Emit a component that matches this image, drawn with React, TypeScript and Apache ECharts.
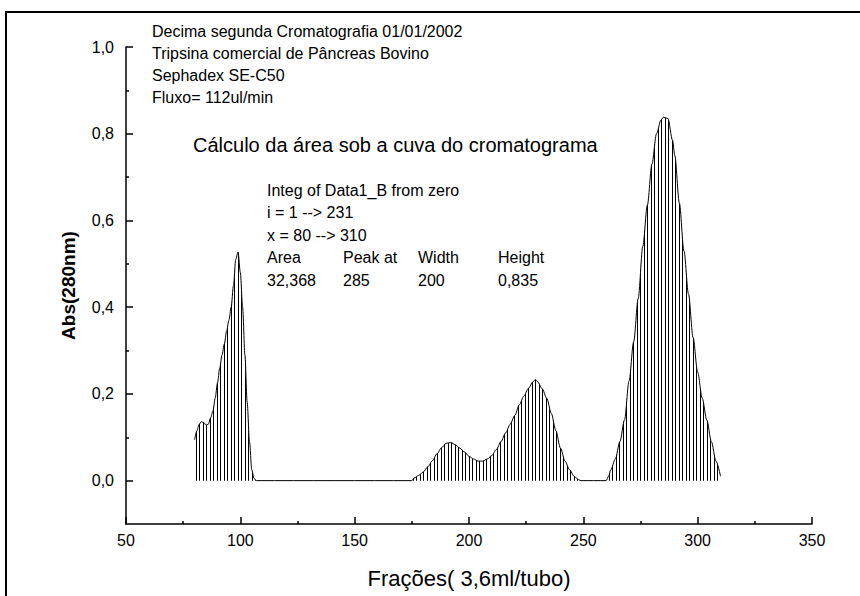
import React, { useEffect, useRef } from "react";
import * as echarts from "echarts";

// Fraction number (x) and absorbance at 280 nm (y)
const fractionX = [
  80, 81, 82, 83, 84, 85, 86, 87, 88, 89, 90, 91, 92, 93, 94, 95, 96, 97, 98, 99,
  100, 101, 102, 103, 104, 105, 106, 107,
  175, 176, 178, 180, 182, 184, 186, 188, 190, 192, 194, 196, 198, 200, 202, 204,
  206, 208, 210, 212, 214, 216, 218, 220, 222, 224, 226, 228, 229, 230, 232, 234,
  236, 238, 240, 242, 244, 246, 248, 249,
  260, 261, 262, 264, 266, 268, 270, 272, 274, 276, 278, 280, 282, 284, 285, 287,
  289, 290, 292, 294, 296, 298, 300, 302, 304, 306, 308, 310,
];
const absorbance = [
  0.094, 0.115, 0.13, 0.136, 0.134, 0.128, 0.13, 0.145, 0.16, 0.19, 0.225, 0.26, 0.29, 0.315, 0.345, 0.37, 0.4, 0.45, 0.51, 0.527,
  0.48, 0.4, 0.29, 0.18, 0.09, 0.025, 0.005, 0,
  0, 0.006, 0.012, 0.02, 0.032, 0.046, 0.062, 0.076, 0.086, 0.088, 0.083, 0.075, 0.066, 0.056, 0.05, 0.045,
  0.045, 0.05, 0.058, 0.072, 0.09, 0.11, 0.13, 0.15, 0.175, 0.195, 0.213, 0.228, 0.233, 0.228, 0.212, 0.19,
  0.155, 0.115, 0.075, 0.045, 0.025, 0.01, 0.002, 0,
  0, 0.01, 0.025, 0.05, 0.09, 0.14, 0.23, 0.32, 0.42, 0.54, 0.635, 0.73, 0.8, 0.832, 0.838, 0.835,
  0.785, 0.75, 0.64, 0.53, 0.43, 0.33, 0.25, 0.19, 0.14, 0.09, 0.045, 0.01,
];

const yMajorTicks = [0, 0.2, 0.4, 0.6, 0.8, 1.0];
const yMinorTicks = [0.1, 0.3, 0.5, 0.7, 0.9];

const headerLines = [
  "Decima segunda Cromatografia 01/01/2002",
  "Tripsina comercial de Pâncreas Bovino",
  "Sephadex SE-C50",
  "Fluxo= 112ul/min",
];
const calcTitle = "Cálculo da área sob a cuva do cromatograma";
const integLines = ["Integ of Data1_B from zero", "i = 1 --> 231", "x = 80 --> 310"];
const resultHeaders = ["Area", "Peak at", "Width", "Height"];
const resultValues = ["32,368", "285", "200", "0,835"];

const FONT = "Arial, 'Liberation Sans', sans-serif";

export default function App() {
  const ref = useRef<HTMLDivElement>(null);
  useEffect(() => {
    if (!ref.current) return;
    const chart = echarts.init(ref.current, null, { renderer: "svg" });
    const svgTile =
      "<svg xmlns='http://www.w3.org/2000/svg' width='7' height='4'>" +
      "<rect x='0' y='0' width='1' height='4' fill='#000'/>" +
      "<rect x='3' y='0' width='1' height='4' fill='#000'/></svg>";
    const hatch = {
      image: "data:image/svg+xml;utf8," + encodeURIComponent(svgTile),
      repeat: "repeat",
      imageWidth: 7,
      imageHeight: 4,
    };
    const data = fractionX.map((x, i) => [x, absorbance[i]]);
    const fmt = (v: number) => v.toFixed(1).replace(".", ",");
    const colXs = [267, 343, 418, 498];
    const small = { fill: "#000", fontSize: 16, fontFamily: FONT, verticalAlign: "middle" };
    const graphic: any[] = [
      {
        type: "rect",
        shape: { x: 6, y: 12, width: 900, height: 700 },
        style: { fill: "none", stroke: "#000", lineWidth: 2 },
        silent: true,
      },
    ];
    headerLines.forEach((t, i) => {
      graphic.push({ type: "text", x: 152, y: 31 + i * 22, style: { ...small, text: t } });
    });
    graphic.push({
      type: "text",
      x: 193,
      y: 145,
      style: { text: calcTitle, fill: "#000", fontSize: 20, fontFamily: FONT, verticalAlign: "middle" },
    });
    integLines.forEach((t, i) => {
      graphic.push({ type: "text", x: 267, y: 190 + i * 22.5, style: { ...small, text: t } });
    });
    resultHeaders.forEach((t, i) => {
      graphic.push({ type: "text", x: colXs[i], y: 257.5, style: { ...small, text: t } });
      graphic.push({ type: "text", x: colXs[i], y: 280, style: { ...small, text: resultValues[i] } });
    });

    chart.setOption({
      animation: false,
      backgroundColor: "#fff",
      grid: { left: 126, top: 47, width: 686, height: 477, containLabel: false },
      xAxis: {
        type: "value",
        min: 50,
        max: 350,
        interval: 50,
        name: "Frações( 3,6ml/tubo)",
        nameLocation: "middle",
        nameGap: 43,
        nameTextStyle: { color: "#000", fontSize: 22, fontFamily: FONT },
        axisLine: { show: true, onZero: false, lineStyle: { color: "#000", width: 1.5 } },
        axisTick: { show: true, inside: true, length: 7, lineStyle: { color: "#000", width: 1.5 } },
        minorTick: { show: true, splitNumber: 2, length: 3, lineStyle: { color: "#000", width: 1.5 } },
        axisLabel: { color: "#000", fontSize: 16, fontFamily: FONT, margin: 8 },
        splitLine: { show: false },
        minorSplitLine: { show: false },
      },
      yAxis: [
        {
          type: "value",
          min: -0.1,
          max: 1.0,
          position: "left",
          name: "Abs(280nm)",
          nameLocation: "middle",
          nameGap: 48,
          nameTextStyle: { color: "#000", fontSize: 19, fontWeight: "bold", fontFamily: FONT },
          axisLine: { show: true, onZero: false, lineStyle: { color: "#000", width: 1.5 } },
          axisTick: {
            show: true,
            inside: true,
            length: 7,
            customValues: yMajorTicks,
            lineStyle: { color: "#000", width: 1.5 },
          },
          axisLabel: {
            color: "#000",
            fontSize: 16,
            fontFamily: FONT,
            margin: 12,
            customValues: yMajorTicks,
            formatter: (v: number) => fmt(v),
          },
          splitLine: { show: false },
        },
        {
          type: "value",
          min: -0.1,
          max: 1.0,
          position: "left",
          axisLine: { show: false, onZero: false },
          axisTick: {
            show: true,
            inside: true,
            length: 3,
            customValues: yMinorTicks,
            lineStyle: { color: "#000", width: 1.5 },
          },
          axisLabel: { show: false },
          splitLine: { show: false },
        },
      ],
      series: [
        {
          type: "line",
          data,
          yAxisIndex: 0,
          showSymbol: false,
          smooth: 0.3,
          smoothMonotone: "x",
          lineStyle: { color: "#000", width: 1 },
          areaStyle: { color: hatch, opacity: 1 },
          silent: true,
        },
      ],
      graphic,
    });
    return () => chart.dispose();
  }, []);
  return (
    <div
      ref={ref}
      style={{ position: "fixed", left: 0, top: 0, width: 860, height: 596, background: "#fff" }}
    />
  );
}
